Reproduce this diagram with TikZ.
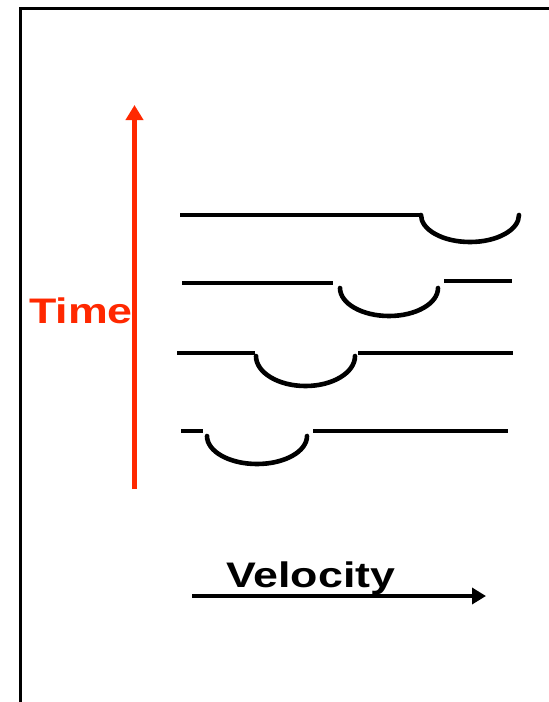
\documentclass[tikz,border=0pt]{standalone}
\usepackage{fontspec}
\setmainfont{Liberation Sans}
\usetikzlibrary{arrows.meta}
\definecolor{timered}{RGB}{255,40,0}
\tikzset{
  track/.style={line width=4.6pt},
  dip/.style={line width=4.6pt, line cap=round},
  axislabel/.style={inner sep=0pt, xscale=1.26, font=\bfseries\fontsize{35.5}{42}\selectfont}
}
\begin{document}
\begin{tikzpicture}[x=1pt,y=-1pt]
  \useasboundingbox (0,0) rectangle (549,702);
  % 边框
  \draw[line width=3pt] (20,702) -- (20,8) -- (549,8);
  % 时间轴
  \coordinate (t0) at (134.5,489);
  \coordinate (t1) at (134.5,105);
  \draw[timered, line width=5pt, -{Triangle[length=15pt,width=17pt]}] (t0) -- (t1);
  \node[axislabel, timered, anchor=base west] (time) at (29,323) {Time};
  % 速度轴
  \coordinate (v0) at (192,596);
  \coordinate (v1) at (486,596);
  \draw[line width=4.6pt, -{Triangle[length=14pt,width=16pt]}] (v0) -- (v1);
  \node[axislabel, anchor=base west] (velocity) at (226,587) {Velocity};
  % 第一行
  \draw[track] (180,215) -- (421,215);
  \draw[dip] (421,215) arc[start angle=180, end angle=0, x radius=49, y radius=27];
  % 第二行
  \draw[track] (182,283) -- (333,283);
  \draw[dip] (340,288) arc[start angle=180, end angle=0, x radius=49, y radius=28];
  \draw[track] (444,281) -- (512,281);
  % 第三行
  \draw[track] (177,353) -- (255,353);
  \draw[dip] (256,356) arc[start angle=180, end angle=0, x radius=49.5, y radius=30];
  \draw[track] (358,353) -- (513,353);
  % 第四行
  \draw[track] (181,431) -- (203,431);
  \draw[dip] (207,436) arc[start angle=180, end angle=0, x radius=50, y radius=28];
  \draw[track] (313,431) -- (508,431);
\end{tikzpicture}
\end{document}
